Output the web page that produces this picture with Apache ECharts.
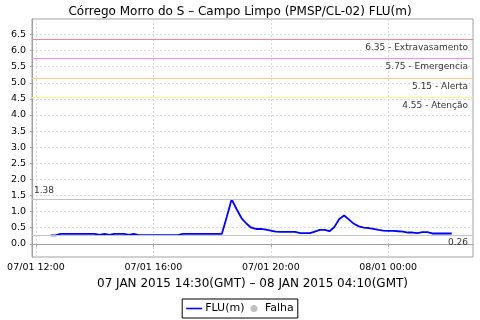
<!DOCTYPE html>
<html><head><meta charset="utf-8">
<script src="https://cdn.jsdelivr.net/npm/echarts@6/dist/echarts.min.js"></script>
<style>html,body{margin:0;padding:0;background:#fff}#c{width:480px;height:320px}</style>
</head><body><div id="c"></div>
<script>
// FLU(m) readings every 10 minutes, 07/01 12:30 -> 08/01 02:10 (local time)
const startHour = 12.5;       // 07/01 12:30
const stepHours = 1 / 6;      // 10 minutes
const fluValues = [
  0.26, 0.26, 0.31, 0.31, 0.31, 0.31, 0.31, 0.31, 0.31, 0.31,
  0.28, 0.31, 0.28, 0.31, 0.31, 0.31, 0.28, 0.31, 0.27, 0.27,
  0.27, 0.27, 0.27, 0.27, 0.27, 0.27, 0.27, 0.31, 0.31, 0.31,
  0.31, 0.31, 0.31, 0.31, 0.31, 0.31, 0.83, 1.38, 1.08, 0.80,
  0.63, 0.50, 0.46, 0.46, 0.44, 0.41, 0.38, 0.37, 0.37, 0.37,
  0.37, 0.33, 0.33, 0.33, 0.38, 0.43, 0.43, 0.39, 0.52, 0.77,
  0.88, 0.75, 0.62, 0.54, 0.50, 0.49, 0.46, 0.43, 0.41, 0.40,
  0.40, 0.39, 0.38, 0.35, 0.35, 0.33, 0.36, 0.36, 0.32, 0.32,
  0.32, 0.32, 0.32
];
const times = fluValues.map((_, i) => startHour + i * stepHours);
const xTicks = [12, 16, 20, 24];
const xTickLabels = ['07/01 12:00', '07/01 16:00', '07/01 20:00', '08/01 00:00'];
const yTicks = [0, 0.5, 1, 1.5, 2, 2.5, 3, 3.5, 4, 4.5, 5, 5.5, 6, 6.5];
const thresholds = [6.35, 5.75, 5.15, 4.55];
const thresholdNames = ['Extravasamento', 'Emergencia', 'Alerta', 'Atenção'];
const thresholdColors = ['#f08c8c', '#ff88ff', '#ffc888', '#fff09a'];
const maxValue = 1.38;
const minValue = 0.26;

const font = 'DejaVu Sans';
const chart = echarts.init(document.getElementById('c'), null, {renderer: 'canvas'});

const markData = thresholds.map((v, i) => ({
  yAxis: v,
  lineStyle: {color: thresholdColors[i], width: 1, type: 'solid'},
  label: {show: true, position: 'insideEndBottom', formatter: v.toFixed(2) + ' - ' + thresholdNames[i],
          color: '#333', fontSize: 9, fontFamily: font, distance: [5, 4]}
}));
markData.push({
  yAxis: maxValue,
  lineStyle: {color: '#c4c4c4', width: 1, type: 'solid'},
  label: {show: true, position: 'insideStartTop', formatter: maxValue.toFixed(2),
          color: '#333', fontSize: 9, fontFamily: font, distance: [2, 4]}
});
markData.push({
  yAxis: minValue,
  lineStyle: {color: '#c4c4c4', width: 1, type: 'solid'},
  label: {show: true, position: 'insideEndBottom', formatter: minValue.toFixed(2),
          color: '#333', fontSize: 9, fontFamily: font, distance: [5, 3]}
});

chart.setOption({
  animation: false,
  backgroundColor: '#fff',
  title: {
    text: 'Córrego Morro do S – Campo Limpo (PMSP/CL-02) FLU(m)',
    left: 'center', top: 1,
    textStyle: {fontFamily: font, fontSize: 12, fontWeight: 'normal', color: '#000'}
  },
  grid: {left: 32, top: 19, right: 7, bottom: 63, show: true, borderColor: '#a0a0a0', borderWidth: 1, backgroundColor: '#fff'},
  legend: {
    left: 'center', top: 299,
    data: [
      {name: 'FLU(m)', icon: 'path://M0,0h20v2h-20z'},
      {name: 'Falha', icon: 'circle'}
    ],
    itemWidth: 16, itemHeight: 7, itemGap: 6,
    padding: [4, 4, 4, 4],
    borderColor: '#000', borderWidth: 1, borderRadius: 0,
    textStyle: {fontFamily: font, fontSize: 11, color: '#000', padding: [0, 0, 0, -2]}
  },
  xAxis: {
    type: 'value',
    min: 11.864, max: 26.89,
    name: '07 JAN 2015 14:30(GMT) – 08 JAN 2015 04:10(GMT)',
    nameLocation: 'middle', nameGap: 19,
    nameTextStyle: {fontFamily: font, fontSize: 12, color: '#000'},
    axisLine: {show: true, lineStyle: {color: '#a0a0a0'}},
    axisTick: {show: true, length: 3, lineStyle: {color: '#a0a0a0'}, customValues: xTicks},
    axisLabel: {
      customValues: xTicks, margin: 6, color: '#000', fontFamily: font, fontSize: 9.5,
      formatter: v => xTickLabels[xTicks.indexOf(Math.round(v))] || ''
    },
    splitLine: {show: true, lineStyle: {color: '#dadada', type: [2, 2], width: 1}}
  },
  yAxis: {
    type: 'value',
    min: -0.41, max: 6.98,
    axisLine: {show: true, lineStyle: {color: '#a0a0a0'}},
    axisTick: {show: true, length: 2, lineStyle: {color: '#a0a0a0'}, customValues: yTicks},
    axisLabel: {
      customValues: yTicks, margin: 6, color: '#000', fontFamily: font, fontSize: 9.5,
      formatter: v => v.toFixed(1)
    },
    splitLine: {show: true, lineStyle: {color: '#dadada', type: [2, 2], width: 1}}
  },
  series: [
    {
      name: 'FLU(m)', type: 'line',
      data: times.map((t, i) => [t, fluValues[i]]),
      showSymbol: false, symbol: 'none',
      color: '#0000ff',
      lineStyle: {color: '#0000ff', width: 1.8},
      markLine: {silent: true, symbol: 'none', data: markData, animation: false}
    },
    {
      name: 'Falha', type: 'line', data: [], color: '#c0c0c0'
    }
  ]
});
</script></body></html>
